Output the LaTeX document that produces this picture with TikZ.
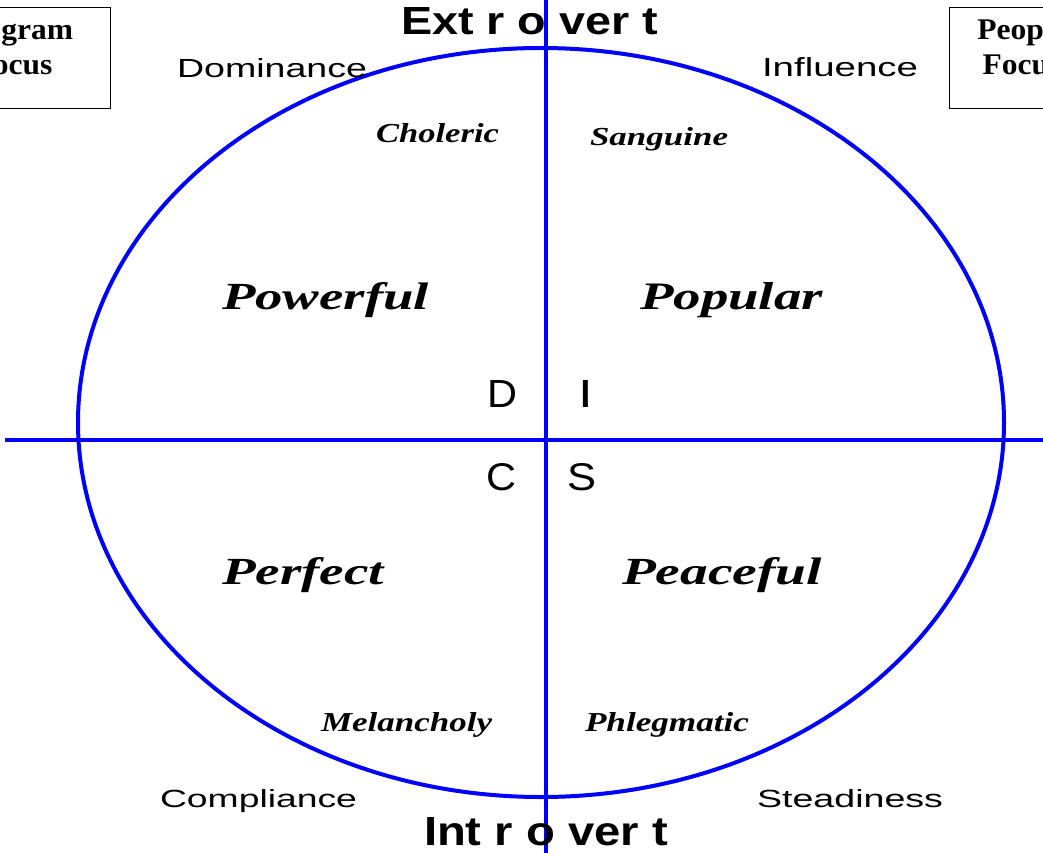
\documentclass[tikz,border=0pt]{standalone}
\usepackage{fontspec}
\setmainfont{Liberation Serif}
\setsansfont{Liberation Sans}
\usepackage{graphicx}
\usetikzlibrary{shapes.geometric}
\definecolor{discblue}{RGB}{0,0,255}
\newcommand{\fitw}[3]{\resizebox{#1pt}{#2pt}{#3}}
\begin{document}
\begin{tikzpicture}[x=1pt,y=-1pt,
  lab/.style={anchor=base west, inner sep=0pt, outer sep=0pt},
  sanslab/.style={lab, font=\sffamily},
  boldsans/.style={lab, font=\sffamily\bfseries},
  temper/.style={lab, font=\bfseries\itshape},
  boxtxt/.style={anchor=base, inner sep=0pt, font=\fontsize{30}{34}\selectfont\bfseries},
  focusbox/.style={draw=black, line width=1pt, minimum width=198pt, minimum height=101pt, inner sep=0pt},
  axis/.style={draw=discblue, line width=4.5pt},
  oval/.style={draw=discblue, line width=4pt}
]
\useasboundingbox (0,0) rectangle (1043,853);
\clip (0,0) rectangle (1043,853);
\fill[white] (0,0) rectangle (1043,853);

% ellipse
\node[oval, ellipse, minimum width=926pt, minimum height=749pt, inner sep=0pt] (disc) at (541,422.5) {};

% axes
\coordinate (top) at (546,0);
\coordinate (bot) at (546,853);
\coordinate (left) at (5,440);
\coordinate (right) at (1043,440);
\draw[axis] (top) -- (bot);
\draw[axis] (left) -- (right);

% focus boxes
\node[focusbox, anchor=north east] (progbox) at (110.5,7.5) {};
\node[boxtxt] (prog1) at (13,40) {\scalebox{1.05}[1]{Program}};
\node[boxtxt] (prog2) at (13,75) {\scalebox{1.05}[1]{Focus}};
\node[focusbox, anchor=north west] (peopbox) at (949,7.5) {};
\node[boxtxt] (peop1) at (1022,40) {\scalebox{1.05}[1]{People}};
\node[boxtxt] (peop2) at (1022,75) {\scalebox{1.05}[1]{Focus}};

% extrovert / introvert
\node[boldsans] (extro) at (401,35) {\fitw{257}{27}{Ext r o ver t}};
\node[boldsans] (intro) at (424,845) {\fitw{244}{28}{Int r o ver t}};

% DISC words
\node[sanslab] (dom) at (177,78) {\fitw{190}{19}{Dominance}};
\node[sanslab] (inf) at (762,77) {\fitw{156}{19}{Influence}};
\node[sanslab] (comp) at (160,807) {\fitw{197}{18}{Compliance}};
\node[sanslab] (stead) at (757,807) {\fitw{186}{18}{Steadiness}};

% letters
\node[sanslab] (ld) at (487,407) {\fitw{30}{27}{D}};
\node[sanslab] (li) at (578.5,407) {\scalebox{1.35}[1]{\resizebox{!}{27pt}{I}}};
\node[sanslab] (lc) at (486,490) {\fitw{30}{27}{C}};
\node[sanslab] (ls) at (567,490) {\fitw{29}{27}{S}};

% temperaments
\node[temper] (chol) at (376,143) {\fitw{123}{19}{Choleric}};
\node[temper] (sang) at (590,146) {\fitw{138}{18}{Sanguine}};
\node[temper] (mel) at (321,731) {\fitw{171}{19}{Melancholy}};
\node[temper] (phl) at (585,731) {\fitw{164}{19}{Phlegmatic}};

\node[temper] (pow) at (222,309) {\fitw{207}{27}{Powerful}};
\node[temper] (pop) at (640,309) {\fitw{183}{27}{Popular}};
\node[temper] (perf) at (222,584) {\fitw{162}{27}{Perfect}};
\node[temper] (peace) at (622,584) {\fitw{200}{27}{Peaceful}};
\end{tikzpicture}
\end{document}
